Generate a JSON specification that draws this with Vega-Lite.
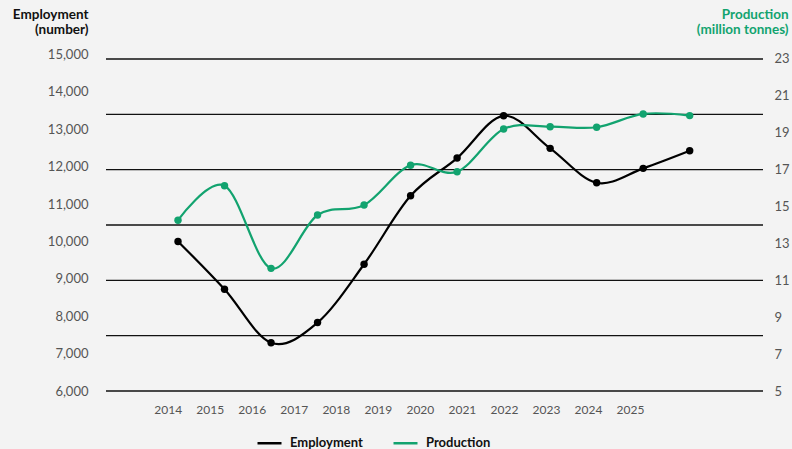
{
  "$schema": "https://vega.github.io/schema/vega-lite/v6.json",
  "width": 657,
  "height": 336.5,
  "autosize": "none",
  "padding": {"left": 106, "top": 54.5, "right": 29, "bottom": 58},
  "background": "#f3f3f3",
  "config": {
    "view": {"stroke": null},
    "font": "Lato",
    "axis": {"labelFont": "Lato", "titleFont": "Lato"},
    "legend": {"labelFont": "Lato"}
  },
  "datasets": {
    "series": [
      {"year": 2014, "series": "Employment", "value": 10000},
      {"year": 2015, "series": "Employment", "value": 8720},
      {"year": 2016, "series": "Employment", "value": 7290},
      {"year": 2017, "series": "Employment", "value": 7830},
      {"year": 2018, "series": "Employment", "value": 9390},
      {"year": 2019, "series": "Employment", "value": 11220},
      {"year": 2020, "series": "Employment", "value": 12230},
      {"year": 2021, "series": "Employment", "value": 13360},
      {"year": 2022, "series": "Employment", "value": 12490},
      {"year": 2023, "series": "Employment", "value": 11570},
      {"year": 2024, "series": "Employment", "value": 11955},
      {"year": 2025, "series": "Employment", "value": 12425},
      {"year": 2014, "series": "Production", "value": 14.26},
      {"year": 2015, "series": "Production", "value": 16.13},
      {"year": 2016, "series": "Production", "value": 11.65},
      {"year": 2017, "series": "Production", "value": 14.54},
      {"year": 2018, "series": "Production", "value": 15.08},
      {"year": 2019, "series": "Production", "value": 17.24},
      {"year": 2020, "series": "Production", "value": 16.89},
      {"year": 2021, "series": "Production", "value": 19.2},
      {"year": 2022, "series": "Production", "value": 19.33},
      {"year": 2023, "series": "Production", "value": 19.3},
      {"year": 2024, "series": "Production", "value": 20.02},
      {"year": 2025, "series": "Production", "value": 19.93}
    ],
    "grid": [{"v": 5}, {"v": 8}, {"v": 11}, {"v": 14}, {"v": 17}, {"v": 20}, {"v": 23}]
  },
  "layer": [
    {
      "data": {"name": "grid"},
      "mark": {"type": "rule", "color": "#111111", "strokeWidth": 1.3},
      "encoding": {
        "y": {"field": "v", "type": "quantitative", "scale": {"domain": [5, 23.243], "nice": false, "zero": false}, "axis": null}
      }
    },
    {
      "data": {"name": "series"},
      "transform": [{"filter": "datum.series === 'Employment'"}],
      "encoding": {
        "x": {"field": "year", "type": "quantitative", "scale": {"domain": [2012.452, 2026.576], "nice": false, "zero": false}, "axis": null},
        "y": {
          "field": "value", "type": "quantitative",
          "scale": {"domain": [6000, 15000], "nice": false, "zero": false},
          "axis": {
            "orient": "left", "values": [6000, 7000, 8000, 9000, 10000, 11000, 12000, 13000, 14000, 15000],
            "format": ",d", "grid": false, "ticks": false, "domain": false,
            "labelPadding": 18, "labelFontSize": 13, "labelColor": "#555555",
            "title": ["Employment", "(number)"], "titleAngle": 0, "titleAlign": "right", "titleBaseline": "alphabetic",
            "titleX": -18, "titleY": -36, "titleFontSize": 13.5, "titleFontWeight": "bold", "titleColor": "#111111", "titleLineHeight": 15
          }
        },
        "color": {
          "field": "series", "type": "nominal",
          "scale": {"domain": ["Employment", "Production"], "range": ["#000000", "#12a36f"]},
          "legend": {
            "orient": "none", "legendX": 150, "legendY": 375, "direction": "horizontal", "title": null,
            "symbolType": "stroke", "symbolSize": 576, "symbolStrokeWidth": 2.5,
            "labelFontSize": 13, "labelFontWeight": "bold", "labelColor": "#111111", "labelOffset": 7, "columnPadding": 25
          }
        }
      },
      "layer": [
        {"mark": {"type": "line", "interpolate": "cardinal", "strokeWidth": 2.2}},
        {"mark": {"type": "point", "filled": true, "opacity": 1, "size": 55}}
      ]
    },
    {
      "data": {"name": "series"},
      "transform": [{"filter": "datum.series === 'Production'"}],
      "encoding": {
        "x": {"field": "year", "type": "quantitative", "scale": {"domain": [2012.452, 2026.576], "nice": false, "zero": false}, "axis": null},
        "y": {
          "field": "value", "type": "quantitative",
          "scale": {"domain": [5, 23.243], "nice": false, "zero": false},
          "axis": {
            "orient": "right", "values": [5, 7, 9, 11, 13, 15, 17, 19, 21, 23],
            "format": "d", "grid": false, "ticks": false, "domain": false,
            "labelPadding": 11, "labelFontSize": 13, "labelColor": "#555555",
            "title": ["Production", "(million tonnes)"], "titleAngle": 0, "titleAlign": "right", "titleBaseline": "alphabetic",
            "titleX": 25, "titleY": -36, "titleFontSize": 13.5, "titleFontWeight": "bold", "titleColor": "#12a36f", "titleLineHeight": 15
          }
        },
        "color": {"field": "series", "type": "nominal", "scale": {"domain": ["Employment", "Production"], "range": ["#000000", "#12a36f"]}}
      },
      "layer": [
        {"mark": {"type": "line", "interpolate": "cardinal", "strokeWidth": 2.2}},
        {"mark": {"type": "point", "filled": true, "opacity": 1, "size": 55}}
      ]
    },
    {
      "data": {"name": "series"},
      "transform": [{"filter": "datum.series === 'Employment'"}],
      "mark": {"type": "point", "opacity": 0},
      "encoding": {
        "x": {
          "field": "year", "type": "quantitative",
          "scale": {"domain": [2012.532, 2028.164], "nice": false, "zero": false},
          "axis": {
            "orient": "bottom", "values": [2014, 2015, 2016, 2017, 2018, 2019, 2020, 2021, 2022, 2023, 2024, 2025],
            "format": "d", "grid": false, "ticks": false, "domain": false, "title": null,
            "labelPadding": 13, "labelFontSize": 12, "labelColor": "#555555"
          }
        }
      }
    }
  ],
  "resolve": {"scale": {"x": "independent", "y": "independent"}, "axis": {"x": "independent", "y": "independent"}}
}
